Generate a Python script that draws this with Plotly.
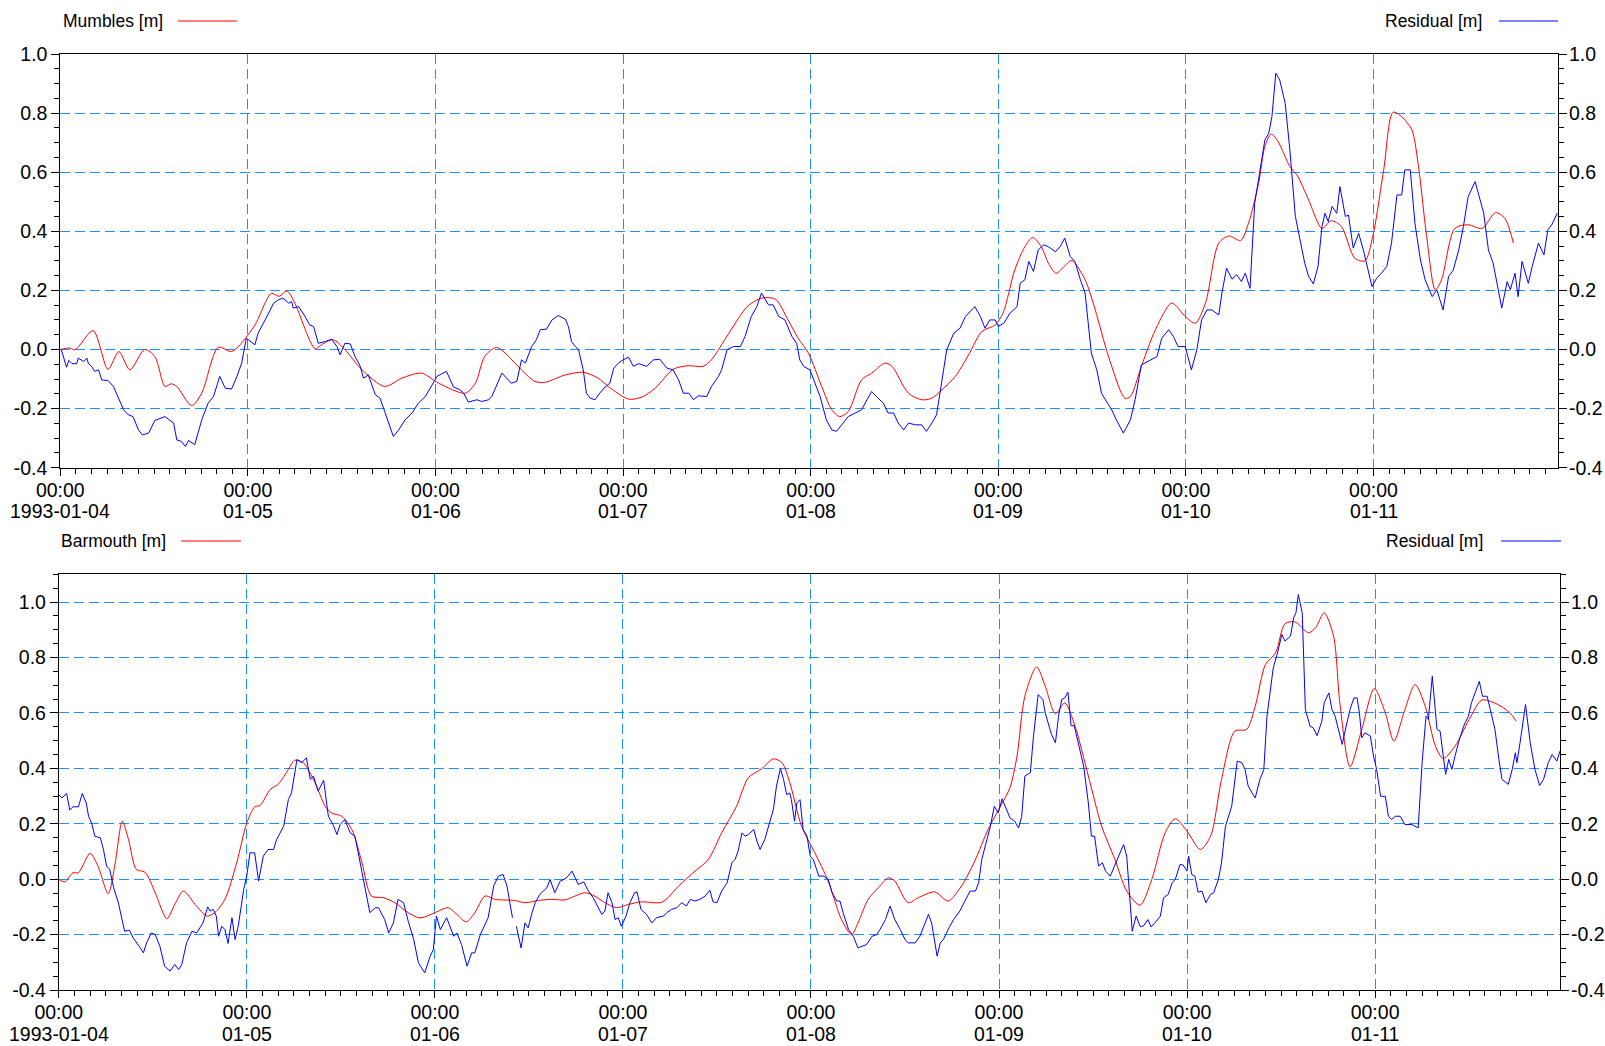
import pandas as pd
import plotly.graph_objects as go

# ---- data: (hours since 1993-01-04 00:00, metres) ----
START = pd.Timestamp("1993-01-04 00:00")

mumbles_level = [
    (0.0, 0.000), (1.2, 0.005), (1.9, -0.001), (4.2, 0.064), (6.1, -0.067), (7.5, -0.007),
    (8.9, -0.069), (10.8, 0.000), (12.1, -0.024), (13.4, -0.125), (14.2, -0.116), (14.9, -0.125),
    (16.8, -0.190), (18.1, -0.147), (20.2, 0.007), (21.9, -0.007), (23.0, 0.016), (24.9, 0.083),
    (27.0, 0.190), (28.0, 0.180), (29.0, 0.198), (30.0, 0.157), (32.6, 0.002), (33.4, 0.016),
    (34.9, 0.033), (36.4, 0.000), (38.6, -0.069), (41.5, -0.125), (43.7, -0.097), (46.2, -0.080),
    (48.4, -0.114), (51.8, -0.148), (53.1, -0.114), (54.3, -0.023), (55.8, 0.007), (56.9, -0.012),
    (59.0, -0.069), (60.7, -0.108), (62.0, -0.111), (64.6, -0.086), (66.9, -0.077), (68.8, -0.097),
    (70.1, -0.125), (72.7, -0.168), (74.4, -0.161), (76.1, -0.131), (78.4, -0.067), (80.3, -0.055),
    (82.2, -0.057), (83.3, -0.035), (85.0, 0.033), (87.2, 0.123), (88.0, 0.148), (89.7, 0.174),
    (91.5, 0.170), (93.1, 0.100), (94.4, 0.038), (95.7, -0.012), (97.4, -0.125), (98.7, -0.204),
    (99.7, -0.227), (100.8, -0.210), (102.5, -0.103), (103.8, -0.080), (105.5, -0.046),
    (106.4, -0.057), (108.5, -0.148), (110.2, -0.170), (111.5, -0.165), (112.8, -0.136),
    (114.5, -0.091), (116.2, -0.018), (117.9, 0.061), (119.6, 0.083), (120.6, 0.123),
    (122.1, 0.269), (123.4, 0.348), (124.4, 0.379), (125.5, 0.348), (126.4, 0.292),
    (127.4, 0.258), (128.5, 0.283), (129.4, 0.301), (131.1, 0.236), (132.4, 0.134),
    (134.1, -0.024), (136.2, -0.165), (136.9, -0.159), (138.3, -0.057), (140.1, 0.067),
    (142.2, 0.157), (143.9, 0.112), (145.2, 0.089), (146.5, 0.157), (148.2, 0.360),
    (149.5, 0.384), (151.0, 0.369), (152.0, 0.427), (153.3, 0.563), (154.1, 0.687),
    (154.9, 0.729), (155.8, 0.703), (157.3, 0.619), (158.2, 0.591), (159.7, 0.506),
    (161.4, 0.410), (162.6, 0.436), (163.9, 0.416), (165.6, 0.309), (166.9, 0.300),
    (167.9, 0.382), (169.3, 0.608), (170.5, 0.803), (171.6, 0.788), (172.9, 0.743),
    (173.7, 0.630), (174.8, 0.382), (175.9, 0.202), (176.7, 0.236), (178.4, 0.410),
    (180.1, 0.422), (181.9, 0.410), (183.6, 0.463), (184.8, 0.444), (185.9, 0.360),
]

mumbles_residual = [
    (0.1, 0.002), (0.4, -0.029), (0.8, -0.060), (1.1, -0.037), (1.5, -0.048), (2.1, -0.048),
    (2.3, -0.029), (3.0, -0.041), (3.4, -0.029), (3.6, -0.048), (4.0, -0.057), (4.4, -0.074),
    (4.9, -0.069), (5.3, -0.103), (6.1, -0.105), (6.8, -0.125), (7.4, -0.159), (8.1, -0.204),
    (8.7, -0.221), (9.3, -0.227), (10.0, -0.272), (10.5, -0.289), (11.3, -0.283), (12.1, -0.240),
    (13.4, -0.227), (14.5, -0.249), (14.9, -0.306), (15.5, -0.311), (16.0, -0.328), (16.4, -0.308),
    (17.2, -0.322), (18.1, -0.238), (18.9, -0.182), (19.6, -0.159), (20.4, -0.091), (21.1, -0.131),
    (21.9, -0.134), (22.6, -0.091), (23.2, -0.046), (23.8, 0.038), (24.9, 0.016), (25.3, 0.055),
    (26.2, 0.100), (27.3, 0.157), (27.9, 0.168), (28.5, 0.174), (29.2, 0.157), (29.6, 0.162),
    (29.8, 0.140), (30.5, 0.145), (31.3, 0.112), (31.9, 0.083), (32.4, 0.078), (33.0, 0.021),
    (33.9, 0.027), (34.7, 0.035), (35.4, 0.010), (35.8, -0.018), (36.4, 0.021), (37.1, 0.019),
    (37.7, -0.024), (38.3, -0.052), (38.8, -0.097), (39.4, -0.086), (40.3, -0.153), (40.9, -0.165),
    (41.5, -0.210), (42.0, -0.249), (42.6, -0.294), (43.3, -0.272), (44.1, -0.238), (45.0, -0.215),
    (45.8, -0.182), (46.7, -0.159), (47.5, -0.125), (48.2, -0.091), (48.8, -0.082), (49.4, -0.074),
    (50.3, -0.127), (51.1, -0.136), (51.6, -0.148), (52.2, -0.178), (53.3, -0.170), (53.9, -0.176),
    (54.8, -0.170), (55.2, -0.159), (56.5, -0.080), (57.7, -0.114), (58.4, -0.108), (59.0, -0.035),
    (59.5, -0.046), (60.3, 0.010), (60.9, 0.033), (61.4, 0.067), (62.2, 0.069), (62.9, 0.100),
    (63.7, 0.115), (64.6, 0.103), (65.0, 0.078), (65.4, 0.027), (65.9, 0.010), (66.3, -0.001),
    (66.9, -0.069), (67.3, -0.148), (67.8, -0.165), (68.4, -0.170), (69.0, -0.148), (69.7, -0.127),
    (70.3, -0.114), (70.8, -0.063), (71.4, -0.046), (72.0, -0.035), (72.7, -0.026), (73.3, -0.057),
    (74.0, -0.048), (75.0, -0.057), (75.9, -0.035), (76.7, -0.033), (77.6, -0.063), (78.4, -0.069),
    (79.1, -0.103), (79.7, -0.148), (80.4, -0.148), (81.0, -0.170), (81.6, -0.157), (82.7, -0.159),
    (83.3, -0.125), (84.2, -0.091), (84.6, -0.069), (85.3, -0.001), (86.1, 0.010), (87.0, 0.010),
    (87.6, 0.044), (88.4, 0.112), (89.1, 0.145), (89.7, 0.191), (90.6, 0.151), (91.2, 0.151),
    (91.9, 0.112), (92.7, 0.100), (93.6, 0.044), (94.2, 0.021), (94.6, -0.035), (95.1, -0.057),
    (95.9, -0.069), (96.6, -0.114), (97.2, -0.159), (98.0, -0.238), (98.7, -0.272), (99.3, -0.277),
    (100.2, -0.249), (100.8, -0.227), (101.7, -0.215), (102.5, -0.204), (103.2, -0.170),
    (103.8, -0.142), (104.4, -0.159), (105.3, -0.182), (105.9, -0.215), (106.6, -0.215),
    (107.2, -0.249), (107.9, -0.272), (108.5, -0.249), (109.4, -0.255), (110.2, -0.255),
    (110.8, -0.277), (111.5, -0.249), (112.1, -0.221), (112.8, -0.103), (113.4, -0.001),
    (114.3, 0.055), (115.1, 0.072), (115.8, 0.112), (116.4, 0.129), (117.0, 0.145), (117.7, 0.112),
    (118.3, 0.072), (118.9, 0.100), (119.6, 0.100), (120.0, 0.078), (120.7, 0.089), (121.5, 0.123),
    (122.4, 0.145), (122.8, 0.224), (123.4, 0.236), (123.9, 0.298), (124.5, 0.264), (125.1, 0.337),
    (125.8, 0.354), (126.4, 0.348), (127.3, 0.331), (127.9, 0.348), (128.5, 0.377), (129.2, 0.315),
    (129.8, 0.298), (130.5, 0.236), (131.1, 0.191), (131.9, -0.012), (132.6, -0.069),
    (133.2, -0.148), (133.9, -0.176), (134.5, -0.204), (135.1, -0.238), (136.0, -0.283),
    (136.9, -0.238), (137.5, -0.170), (138.3, -0.052), (139.4, -0.035), (140.3, -0.024),
    (140.9, 0.038), (141.8, 0.067), (142.4, 0.044), (143.0, 0.010), (143.9, 0.010), (144.7, -0.069),
    (145.4, -0.001), (146.0, 0.100), (146.7, 0.134), (147.3, 0.134), (148.2, 0.117), (148.6, 0.191),
    (149.2, 0.275), (149.9, 0.238), (150.5, 0.253), (151.1, 0.230), (151.6, 0.258), (152.2, 0.207),
    (152.8, 0.495), (153.5, 0.619), (154.1, 0.709), (154.6, 0.732), (155.0, 0.788), (155.5, 0.935),
    (156.0, 0.912), (156.7, 0.833), (157.3, 0.675), (158.0, 0.450), (158.8, 0.337), (159.2, 0.292),
    (159.7, 0.247), (160.3, 0.222), (160.9, 0.281), (161.4, 0.416), (161.8, 0.461), (162.2, 0.433),
    (162.7, 0.484), (163.3, 0.461), (163.7, 0.551), (164.4, 0.450), (164.8, 0.455), (165.4, 0.343),
    (166.1, 0.393), (166.7, 0.337), (167.8, 0.213), (168.4, 0.241), (169.0, 0.258), (169.7, 0.281),
    (170.3, 0.360), (171.0, 0.523), (171.6, 0.523), (172.0, 0.608), (172.7, 0.608), (173.3, 0.427),
    (174.0, 0.303), (174.6, 0.236), (175.5, 0.179), (176.1, 0.202), (176.9, 0.134), (177.6, 0.247),
    (178.2, 0.269), (178.9, 0.337), (179.5, 0.416), (180.1, 0.517), (181.0, 0.568), (181.4, 0.529),
    (182.1, 0.461), (182.7, 0.337), (183.3, 0.292), (183.8, 0.224), (184.4, 0.140), (185.1, 0.230),
    (185.5, 0.202), (186.1, 0.258), (186.5, 0.179), (187.0, 0.298), (187.4, 0.258), (187.8, 0.224),
    (188.3, 0.281), (189.1, 0.360), (189.8, 0.320), (190.3, 0.405), (190.8, 0.422), (191.5, 0.461),
]

barmouth_level = [
    (0.0, -0.001), (0.8, -0.010), (1.8, 0.023), (2.5, 0.023), (4.0, 0.093), (5.0, 0.047),
    (6.3, -0.052), (7.2, 0.059), (8.1, 0.209), (8.9, 0.143), (9.9, 0.035), (11.0, 0.025),
    (12.3, -0.049), (13.8, -0.143), (14.8, -0.091), (15.9, -0.043), (17.4, -0.091), (18.9, -0.133),
    (19.9, -0.121), (21.2, -0.073), (22.7, 0.059), (24.0, 0.203), (25.0, 0.261), (25.7, 0.266),
    (27.0, 0.324), (28.0, 0.342), (29.3, 0.396), (30.1, 0.429), (31.2, 0.420), (32.7, 0.348),
    (34.0, 0.263), (34.8, 0.239), (36.1, 0.227), (37.4, 0.179), (38.7, 0.059), (39.9, -0.061),
    (41.4, -0.067), (42.9, -0.085), (44.6, -0.121), (46.1, -0.140), (48.0, -0.121), (49.7, -0.103),
    (50.8, -0.127), (52.0, -0.154), (53.1, -0.121), (54.4, -0.061), (55.7, -0.073), (58.2, -0.077),
    (59.5, -0.085), (61.2, -0.077), (62.9, -0.073), (64.6, -0.075), (65.8, -0.062), (67.2, -0.049),
    (68.4, -0.061), (69.7, -0.085), (71.2, -0.103), (72.7, -0.091), (74.4, -0.082), (77.0, -0.083),
    (79.1, -0.025), (81.2, 0.029), (82.9, 0.071), (84.6, 0.167), (86.5, 0.263), (88.0, 0.366),
    (89.7, 0.398), (91.2, 0.434), (92.3, 0.420), (93.3, 0.348), (94.8, 0.191), (96.5, 0.095),
    (98.2, -0.007), (99.9, -0.146), (101.2, -0.200), (102.0, -0.158), (103.3, -0.073),
    (104.6, -0.031), (105.9, 0.005), (106.7, -0.007), (108.4, -0.085), (109.7, -0.067),
    (111.8, -0.046), (113.5, -0.079), (115.2, -0.025), (116.9, 0.065), (118.6, 0.179),
    (120.3, 0.269), (121.4, 0.330), (122.3, 0.444), (123.3, 0.660), (124.8, 0.766),
    (125.9, 0.696), (127.2, 0.597), (128.4, 0.636), (129.7, 0.552), (131.4, 0.372),
    (133.1, 0.191), (134.8, 0.071), (136.3, -0.043), (138.0, -0.094), (139.5, -0.001),
    (141.2, 0.167), (142.5, 0.218), (144.0, 0.173), (145.7, 0.107), (147.0, 0.155),
    (148.4, 0.360), (150.1, 0.534), (151.6, 0.540), (152.7, 0.624), (154.0, 0.774),
    (155.3, 0.817), (156.5, 0.922), (157.8, 0.928), (159.5, 0.889), (160.4, 0.907),
    (161.5, 0.961), (162.7, 0.877), (163.5, 0.636), (164.8, 0.405), (166.3, 0.540),
    (167.9, 0.688), (169.3, 0.600), (170.4, 0.498), (171.8, 0.612), (173.1, 0.702),
    (174.4, 0.624), (175.7, 0.480), (176.7, 0.435), (178.2, 0.480), (180.0, 0.576),
    (181.6, 0.646), (182.9, 0.640), (184.4, 0.618), (185.4, 0.594), (186.0, 0.570),
]

barmouth_residual = [
    (0.0, 0.304), (0.4, 0.293), (1.0, 0.309), (1.4, 0.249), (1.8, 0.261), (2.5, 0.261),
    (3.0, 0.309), (3.5, 0.275), (3.8, 0.227), (4.2, 0.201), (4.6, 0.155), (5.3, 0.149),
    (5.7, 0.107), (6.1, 0.047), (6.5, 0.035), (7.0, -0.031), (7.6, -0.085), (8.0, -0.133),
    (8.4, -0.188), (9.0, -0.184), (9.5, -0.212), (10.4, -0.248), (10.8, -0.266), (11.2, -0.230),
    (11.8, -0.194), (12.3, -0.200), (12.9, -0.242), (13.5, -0.314), (14.2, -0.332), (14.8, -0.308),
    (15.3, -0.326), (15.7, -0.308), (16.3, -0.230), (17.0, -0.188), (17.6, -0.194), (18.0, -0.176),
    (18.4, -0.158), (19.0, -0.100), (19.3, -0.115), (19.7, -0.109), (20.1, -0.133), (20.4, -0.206),
    (20.8, -0.170), (21.2, -0.182), (21.6, -0.232), (22.1, -0.139), (22.5, -0.218), (22.9, -0.170),
    (23.6, -0.037), (24.0, 0.013), (24.4, 0.095), (25.0, 0.095), (25.5, -0.007), (26.1, 0.083),
    (26.7, 0.107), (27.4, 0.107), (27.8, 0.143), (28.7, 0.191), (29.3, 0.287), (29.7, 0.311),
    (30.4, 0.432), (31.0, 0.420), (31.6, 0.438), (32.1, 0.360), (32.5, 0.372), (33.1, 0.317),
    (33.8, 0.357), (34.4, 0.227), (35.0, 0.197), (35.5, 0.161), (35.9, 0.197), (36.5, 0.215),
    (37.2, 0.167), (37.8, 0.155), (38.4, 0.065), (39.1, -0.037), (39.7, -0.121), (40.4, -0.103),
    (40.8, -0.103), (41.6, -0.146), (42.1, -0.194), (42.7, -0.158), (43.3, -0.073), (44.0, -0.085),
    (44.6, -0.152), (45.3, -0.218), (45.9, -0.302), (46.3, -0.320), (46.7, -0.338), (47.4, -0.278),
    (47.8, -0.254), (48.2, -0.133), (48.7, -0.182), (49.5, -0.139), (50.4, -0.206), (50.8, -0.194),
    (51.4, -0.236), (52.1, -0.314), (52.7, -0.266), (53.1, -0.266), (53.8, -0.200), (54.8, -0.139),
    (55.5, -0.025), (56.1, 0.011), (56.7, 0.017), (57.2, -0.025), (57.6, -0.085), (57.9, -0.139),
    (58.2, None),
    (58.4, -0.170), (59.0, -0.248), (59.5, -0.158), (59.9, -0.176), (60.4, -0.121), (60.8, -0.085),
    (61.4, -0.055), (61.9, -0.043), (62.3, -0.031), (62.7, -0.001), (63.3, -0.049), (64.0, -0.007),
    (64.6, 0.001), (65.0, 0.011), (65.5, 0.029), (65.9, 0.005), (66.3, -0.019), (67.0, -0.010),
    (67.6, -0.043), (68.2, -0.067), (68.9, -0.103), (69.3, -0.127), (69.7, -0.115), (70.1, -0.049),
    (70.6, -0.085), (71.0, -0.146), (71.4, -0.139), (71.8, -0.170), (72.4, -0.133), (72.9, -0.085),
    (73.5, -0.049), (73.8, -0.046), (74.3, -0.109), (75.0, -0.127), (75.7, -0.158), (76.3, -0.139),
    (77.2, -0.133), (77.6, -0.121), (78.2, -0.109), (78.9, -0.103), (79.5, -0.085), (80.1, -0.097),
    (80.6, -0.073), (81.2, -0.079), (81.8, -0.073), (82.5, -0.061), (83.1, -0.040), (83.5, -0.082),
    (84.0, -0.085), (84.6, -0.043), (85.3, -0.013), (85.9, 0.059), (86.3, 0.071), (86.7, 0.101),
    (87.2, 0.167), (87.6, 0.155), (88.0, 0.161), (88.7, 0.179), (89.1, 0.137), (89.5, 0.107),
    (90.1, 0.143), (90.8, 0.215), (91.2, 0.251), (91.6, 0.336), (92.1, 0.399), (92.5, 0.360),
    (92.9, 0.305), (93.3, 0.311), (93.5, 0.287), (93.9, 0.209), (94.2, 0.275), (94.6, 0.287),
    (95.0, 0.179), (95.5, 0.155), (95.9, 0.083), (96.3, 0.071), (97.0, 0.011), (97.6, 0.011),
    (98.2, -0.001), (98.7, -0.049), (99.3, -0.079), (99.7, -0.079), (100.1, -0.121), (100.8, -0.182),
    (101.4, -0.206), (102.0, -0.248), (102.5, -0.242), (103.1, -0.236), (103.8, -0.206),
    (104.4, -0.200), (104.8, -0.182), (105.5, -0.146), (106.1, -0.097), (106.7, -0.146),
    (107.4, -0.182), (108.0, -0.218), (108.4, -0.230), (109.3, -0.230), (109.9, -0.206),
    (110.4, -0.170), (111.0, -0.127), (111.4, -0.158), (112.1, -0.278), (112.5, -0.230),
    (112.9, -0.218), (113.6, -0.176), (114.2, -0.146), (115.0, -0.115), (115.7, -0.073),
    (116.3, -0.043), (117.0, -0.043), (117.4, -0.013), (117.8, 0.071), (118.4, 0.137),
    (118.9, 0.191), (119.4, 0.263), (119.9, 0.239), (120.4, 0.290), (121.0, 0.251), (121.4, 0.221),
    (122.0, 0.209), (122.5, 0.185), (122.9, 0.227), (123.3, 0.372), (124.0, 0.384), (124.4, 0.516),
    (125.0, 0.666), (125.6, 0.648), (125.9, 0.600), (126.3, 0.558), (126.7, 0.522), (127.2, 0.492),
    (127.6, 0.588), (128.0, 0.648), (128.4, 0.654), (128.8, 0.675), (129.2, 0.554), (129.6, 0.554),
    (130.1, 0.492), (130.8, 0.408), (131.4, 0.275), (131.8, 0.155), (132.2, 0.155), (132.7, 0.047),
    (133.2, 0.059), (133.6, 0.029), (134.2, 0.011), (134.8, 0.053), (135.5, 0.101), (135.9, 0.125),
    (136.3, 0.083), (136.7, -0.085), (137.0, -0.188), (137.5, -0.133), (138.0, -0.170),
    (138.4, -0.170), (139.0, -0.146), (139.4, -0.172), (139.9, -0.158), (140.6, -0.133),
    (141.0, -0.067), (141.6, -0.055), (142.1, -0.013), (142.5, -0.001), (143.1, 0.053),
    (143.5, 0.051), (144.0, 0.029), (144.2, 0.083), (144.6, 0.017), (145.0, 0.011), (145.4, -0.047),
    (145.9, -0.043), (146.4, -0.085), (147.0, -0.055), (147.4, -0.049), (148.0, -0.001),
    (148.4, 0.059), (148.9, 0.191), (149.7, 0.263), (150.4, 0.426), (151.0, 0.420), (151.4, 0.396),
    (151.8, 0.336), (152.3, 0.311), (152.7, 0.293), (153.3, 0.360), (153.8, 0.396), (154.2, 0.588),
    (154.6, 0.684), (155.0, 0.762), (155.5, 0.811), (156.1, 0.883), (156.5, 0.859), (157.2, 0.877),
    (157.6, 0.943), (157.9, 0.961), (158.2, 1.027), (158.7, 0.961), (159.1, 0.612), (159.7, 0.552),
    (160.1, 0.546), (160.6, 0.518), (161.2, 0.570), (161.5, 0.636), (162.1, 0.672), (162.5, 0.612),
    (162.9, 0.588), (163.3, 0.540), (163.8, 0.486), (164.4, 0.564), (164.8, 0.612), (165.3, 0.654),
    (165.7, 0.654), (166.0, 0.600), (166.3, 0.510), (166.7, 0.528), (167.1, 0.522), (167.4, 0.516),
    (167.8, 0.444), (168.2, 0.396), (168.7, 0.299), (169.3, 0.299), (169.7, 0.227), (170.1, 0.215),
    (170.6, 0.227), (171.2, 0.227), (171.8, 0.197), (172.7, 0.197), (173.5, 0.185), (174.0, 0.420),
    (174.5, 0.588), (174.8, 0.576), (175.3, 0.732), (175.9, 0.540), (176.3, 0.534), (176.5, 0.492),
    (177.0, 0.378), (177.4, 0.432), (177.8, 0.396), (178.2, 0.444), (178.7, 0.498), (179.3, 0.552),
    (179.9, 0.588), (180.3, 0.636), (180.8, 0.678), (181.3, 0.714), (181.7, 0.660), (182.3, 0.660),
    (182.7, 0.612), (183.3, 0.540), (183.8, 0.432), (184.2, 0.360), (185.0, 0.342), (185.5, 0.396),
    (185.9, 0.456), (186.1, 0.420), (186.5, 0.492), (187.2, 0.630), (187.8, 0.492), (188.4, 0.396),
    (189.0, 0.338), (189.5, 0.360), (190.1, 0.420), (190.6, 0.450), (191.2, 0.426), (191.6, 0.462),
]

# ---- axis ticks ----
day_ticks = [START + pd.Timedelta(days=d) for d in range(8)]
time_tick_text = ["00:00"] * 8
date_tick_text = ["1993-01-04", "01-05", "01-06", "01-07", "01-08", "01-09", "01-10", "01-11"]
top_y_ticks = [-0.4, -0.2, 0.0, 0.2, 0.4, 0.6, 0.8, 1.0]
top_y_text = ["-0.4", "-0.2", "0.0", "0.2", "0.4", "0.6", "0.8", "1.0"]
bottom_y_ticks = [-0.4, -0.2, 0.0, 0.2, 0.4, 0.6, 0.8, 1.0]
bottom_y_text = ["-0.4", "-0.2", "0.0", "0.2", "0.4", "0.6", "0.8", "1.0"]
x_end = START + pd.Timedelta(hours=191.6)

W, H = 1605, 1046
FONT = "Liberation Sans, Arial, Helvetica, sans-serif"
GRID = "#1E8FFF"
DASH = "10px,5px"
TICK_SIZE = 19.5


def split(series):
    xs = [START + pd.Timedelta(hours=h) for h, _ in series]
    ys = [v for _, v in series]
    return xs, ys


def px(xp):
    return xp / W


def py(yp):
    return 1 - yp / H


fig = go.Figure()

for series, color, shape, xa, ya in [
    (mumbles_level, "#FF0000", "spline", "x", "y"),
    (mumbles_residual, "#0000FF", "linear", "x", "y"),
    (barmouth_level, "#FF0000", "spline", "x2", "y2"),
    (barmouth_residual, "#0000FF", "linear", "x2", "y2"),
]:
    xs, ys = split(series)
    fig.add_trace(go.Scatter(x=xs, y=ys, mode="lines", xaxis=xa, yaxis=ya,
                             line=dict(color=color, width=1, shape=shape, smoothing=0.8),
                             connectgaps=False, showlegend=False, hoverinfo="skip"))

# empty traces so the right-hand value axes are drawn
fig.add_trace(go.Scatter(x=[START], y=[None], xaxis="x", yaxis="y3", showlegend=False, hoverinfo="skip"))
fig.add_trace(go.Scatter(x=[START], y=[None], xaxis="x2", yaxis="y4", showlegend=False, hoverinfo="skip"))

tickfont = dict(family=FONT, size=TICK_SIZE, color="black")


def xaxis(domain, anchor):
    return dict(domain=domain, anchor=anchor, type="date", range=[START, x_end],
                automargin=False,
                tickmode="array", tickvals=day_ticks, ticktext=time_tick_text,
                ticks="outside", ticklen=7, tickcolor="black", tickwidth=1,
                ticklabelstandoff=-2,
                showline=True, linecolor="black", linewidth=1, mirror=True,
                showgrid=True, gridcolor=GRID, gridwidth=1, griddash=DASH,
                zeroline=False, tickfont=tickfont, tickangle=0,
                minor=dict(tickmode="linear", tick0=START, dtick=2 * 3600 * 1000,
                           ticks="outside", ticklen=5, tickcolor="black", showgrid=False))


def yaxis(domain, anchor, rng, vals, text, side="left", overlay=None, grid=True):
    d = dict(domain=domain, anchor=anchor, range=rng, side=side, automargin=False,
             tickmode="array", tickvals=vals, ticktext=text,
             ticks="outside", ticklen=8, tickcolor="black", tickwidth=1,
             showline=True, linecolor="black", linewidth=1,
             showgrid=grid, gridcolor=GRID, gridwidth=1, griddash=DASH,
             zeroline=False, tickfont=tickfont,
             minor=dict(tickmode="linear", tick0=0, dtick=0.05, ticks="outside",
                        ticklen=5, tickcolor="black", showgrid=False))
    if overlay:
        d["overlaying"] = overlay
        d["ticklabelstandoff"] = -2
    else:
        d["mirror"] = True
    return d


top_xdom = [px(60.3), px(1558)]
top_ydom = [py(467.7), py(54)]
bot_xdom = [px(58.8), px(1560)]
bot_ydom = [py(990), py(574.3)]

fig.update_layout(
    width=W, height=H,
    margin=dict(l=0, r=0, t=0, b=0, autoexpand=False),
    paper_bgcolor="white", plot_bgcolor="white",
    font=dict(family=FONT, color="black"),
    showlegend=False,
    xaxis=xaxis(top_xdom, "y"),
    xaxis2=xaxis(bot_xdom, "y2"),
    yaxis=yaxis(top_ydom, "x", [-0.4, 1.0], top_y_ticks, top_y_text),
    yaxis2=yaxis(bot_ydom, "x2", [-0.4, 1.1], bottom_y_ticks, bottom_y_text),
    yaxis3=yaxis(top_ydom, "x", [-0.4, 1.0], top_y_ticks, top_y_text,
                 side="right", overlay="y", grid=False),
    yaxis4=yaxis(bot_ydom, "x2", [-0.4, 1.1], bottom_y_ticks, bottom_y_text,
                 side="right", overlay="y2", grid=False),
)

# date line under each "00:00" time label
for xref, ypix in [("x", 511), ("x2", 1034)]:
    for t, label in zip(day_ticks, date_tick_text):
        fig.add_annotation(text=label, x=t, y=py(ypix), xref=xref, yref="paper",
                           xanchor="center", yanchor="middle", showarrow=False,
                           font=dict(family=FONT, size=TICK_SIZE, color="black"))

# series keys above each panel: name first, then a short line sample
legend_items = [
    ("Mumbles [m]", "#FF0000", 61, 21, 178, 237, "left"),
    ("Residual [m]", "#0000FF", 1484, 21, 1499, 1558, "right"),
    ("Barmouth [m]", "#FF0000", 59, 541, 181, 241, "left"),
    ("Residual [m]", "#0000FF", 1485, 541, 1501, 1561, "right"),
]
for label, color, tx, ty, l0, l1, anchor in legend_items:
    fig.add_annotation(text=label, x=px(tx), y=py(ty), xref="paper", yref="paper",
                       xanchor=anchor, yanchor="middle", showarrow=False,
                       font=dict(family=FONT, size=17.5, color="black"))
    fig.add_shape(type="line", xref="paper", yref="paper",
                  x0=px(l0), x1=px(l1), y0=py(ty), y1=py(ty),
                  line=dict(color=color, width=1))

fig.write_html("out.html")
